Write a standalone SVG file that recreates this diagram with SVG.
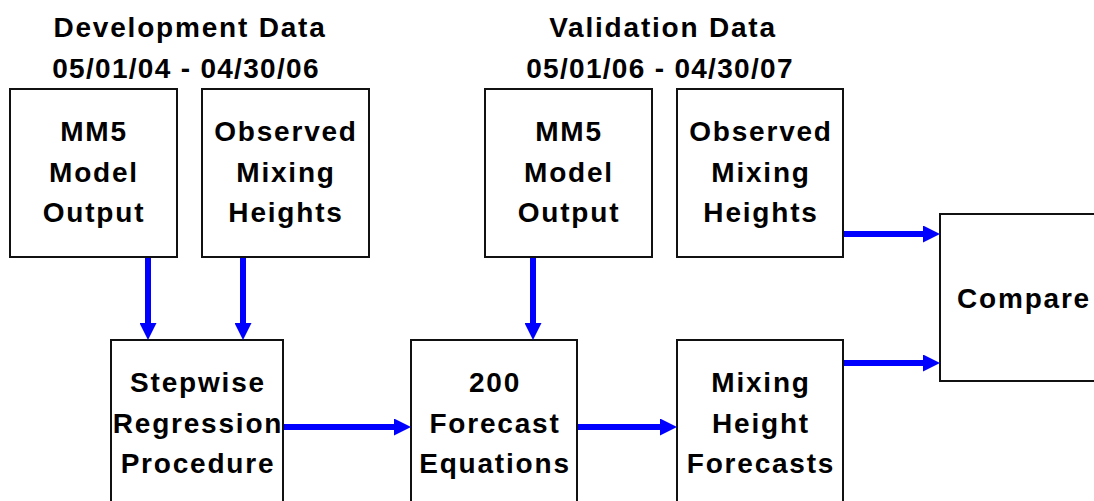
<svg xmlns="http://www.w3.org/2000/svg" width="1094" height="501" viewBox="0 0 1094 501">
  <style>
    .box { fill: #ffffff; stroke: #111111; stroke-width: 2; }
    .lbl { font-family: "Liberation Sans", Arial, sans-serif; font-weight: bold; font-size: 28px; letter-spacing: 1.8px; fill: #000000; text-anchor: middle; }
    .date { letter-spacing: 1.3px; }
    .flow { stroke: #0000ff; stroke-width: 6; fill: none; marker-end: url(#head); }
  </style>
  <defs>
    <marker id="head" markerUnits="userSpaceOnUse" markerWidth="17" markerHeight="17" viewBox="0 0 17 17" refX="0" refY="8.5" orient="auto">
      <path d="M0,0 L17,8.5 L0,17 z" fill="#0000ff"/>
    </marker>
  </defs>
  <rect width="1094" height="501" fill="#ffffff"/>

  <!-- section headings -->
  <g id="heading-development">
    <text class="lbl" x="190" y="37">Development Data</text>
    <text class="lbl date" x="186" y="78">05/01/04 - 04/30/06</text>
  </g>
  <g id="heading-validation">
    <text class="lbl" x="663" y="37">Validation Data</text>
    <text class="lbl date" x="660" y="78">05/01/06 - 04/30/07</text>
  </g>

  <!-- top row -->
  <g id="dev-mm5">
    <rect class="box" x="10" y="89" width="167" height="168"/>
    <text class="lbl" x="94" y="141">MM5</text>
    <text class="lbl" x="94" y="182">Model</text>
    <text class="lbl" x="94" y="222">Output</text>
  </g>
  <g id="dev-observed">
    <rect class="box" x="202" y="89" width="167" height="168"/>
    <text class="lbl" x="286" y="141">Observed</text>
    <text class="lbl" x="286" y="182">Mixing</text>
    <text class="lbl" x="286" y="222">Heights</text>
  </g>
  <g id="val-mm5">
    <rect class="box" x="485" y="89" width="167" height="168"/>
    <text class="lbl" x="569" y="141">MM5</text>
    <text class="lbl" x="569" y="182">Model</text>
    <text class="lbl" x="569" y="222">Output</text>
  </g>
  <g id="val-observed">
    <rect class="box" x="677" y="89" width="166" height="168"/>
    <text class="lbl" x="761" y="141">Observed</text>
    <text class="lbl" x="761" y="182">Mixing</text>
    <text class="lbl" x="761" y="222">Heights</text>
  </g>

  <!-- bottom row -->
  <g id="stepwise">
    <rect class="box" x="111" y="340" width="172" height="180"/>
    <text class="lbl" x="198" y="392">Stepwise</text>
    <text class="lbl" x="198" y="433">Regression</text>
    <text class="lbl" x="198" y="473">Procedure</text>
  </g>
  <g id="equations">
    <rect class="box" x="411" y="340" width="166" height="180"/>
    <text class="lbl" x="495" y="392">200</text>
    <text class="lbl" x="495" y="433">Forecast</text>
    <text class="lbl" x="495" y="473">Equations</text>
  </g>
  <g id="forecasts">
    <rect class="box" x="677" y="340" width="166" height="180"/>
    <text class="lbl" x="761" y="392">Mixing</text>
    <text class="lbl" x="761" y="433">Height</text>
    <text class="lbl" x="761" y="473">Forecasts</text>
  </g>
  <g id="compare">
    <rect class="box" x="940" y="214" width="167" height="167"/>
    <text class="lbl" x="1024" y="308">Compare</text>
  </g>

  <!-- connectors -->
  <g id="connectors">
    <line class="flow" x1="148" y1="258" x2="148" y2="323"/>
    <line class="flow" x1="243" y1="258" x2="243" y2="323"/>
    <line class="flow" x1="533" y1="258" x2="533" y2="323"/>
    <line class="flow" x1="284" y1="427" x2="394" y2="427"/>
    <line class="flow" x1="578" y1="427" x2="660" y2="427"/>
    <line class="flow" x1="844" y1="234" x2="923" y2="234"/>
    <line class="flow" x1="844" y1="363" x2="923" y2="363"/>
  </g>
</svg>
